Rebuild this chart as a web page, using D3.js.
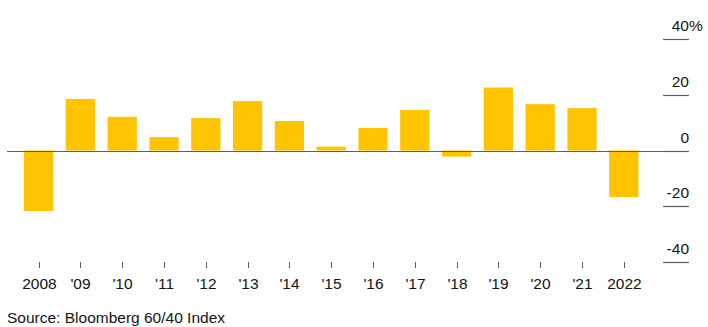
<!DOCTYPE html>
<html>
<head>
<meta charset="utf-8">
<script src="https://cdn.jsdelivr.net/npm/d3@7"></script>
<style>
  html, body { margin: 0; padding: 0; background: #ffffff; }
  svg { display: block; font-family: "Liberation Sans", Arial, sans-serif; }
</style>
</head>
<body>
<svg id="chart" width="708" height="327"></svg>
<script>
const categories = ["2008", "'09", "'10", "'11", "'12", "'13", "'14", "'15", "'16", "'17", "'18", "'19", "'20", "'21", "2022"];
const returns = [-21.7, 18.5, 12.1, 4.8, 11.6, 17.7, 10.6, 1.4, 8.1, 14.5, -2.2, 22.6, 16.6, 15.2, -16.7];
const yTicks = [-40, -20, 0, 20, 40];
const yTickLabels = ["-40", "-20", "0", "20", "40%"];
const sourceText = "Source: Bloomberg 60/40 Index";

const svg = d3.select("#chart");
const barColor = "#ffc400";
const lineColor = "#5e5e5e";
const textColor = "#141414";

const x = d3.scaleBand()
  .domain(categories)
  .range([17.7, 644.7])
  .paddingInner(0.3)
  .paddingOuter(0.15);

const y = d3.scaleLinear().domain([-40, 40]).range([262, 39]);

// Bars
svg.append("g").selectAll("rect")
  .data(categories.map((c, i) => ({ c, v: returns[i] })))
  .join("rect")
  .attr("x", d => x(d.c))
  .attr("width", x.bandwidth())
  .attr("y", d => y(Math.max(0, d.v)))
  .attr("height", d => Math.abs(y(d.v) - y(0)))
  .attr("fill", barColor);

// Zero line
svg.append("line")
  .attr("x1", 7).attr("x2", 689)
  .attr("y1", Math.round(y(0)) + 0.5).attr("y2", Math.round(y(0)) + 0.5)
  .attr("stroke", lineColor).attr("stroke-width", 1);

// Y gridline stubs and labels (right side)
const yg = svg.append("g");
yTicks.forEach((t, i) => {
  const yy = Math.round(y(t)) + 0.5;
  yg.append("line")
    .attr("x1", 663).attr("x2", 689)
    .attr("y1", yy).attr("y2", yy)
    .attr("stroke", lineColor).attr("stroke-width", 1.2);
  const lab = yTickLabels[i];
  const txt = yg.append("text")
    .attr("y", yy - 8.5)
    .attr("font-size", 15.5)
    .attr("fill", textColor);
  if (lab.endsWith("%")) {
    txt.attr("text-anchor", "start").text(lab);
    const tmp = yg.append("text").attr("font-size", 15.5).text(lab.slice(0, -1));
    const numW = tmp.node().getComputedTextLength();
    tmp.remove();
    txt.attr("x", 689 - numW);
  } else {
    txt.attr("x", 689).attr("text-anchor", "end").text(lab);
  }
});

// X ticks and labels
const xg = svg.append("g");
categories.forEach(c => {
  const cx = Math.round(x(c) + x.bandwidth() / 2) + 0.5;
  xg.append("line")
    .attr("x1", cx).attr("x2", cx)
    .attr("y1", 262).attr("y2", 268)
    .attr("stroke", lineColor).attr("stroke-width", 1);
  xg.append("text")
    .attr("x", cx)
    .attr("y", 289)
    .attr("text-anchor", "middle")
    .attr("font-size", 15.5)
    .attr("fill", textColor)
    .text(c);
});

// Source
svg.append("text")
  .attr("x", 7)
  .attr("y", 323)
  .attr("font-size", 15.5)
  .attr("fill", textColor)
  .text(sourceText);
</script>
</body>
</html>
